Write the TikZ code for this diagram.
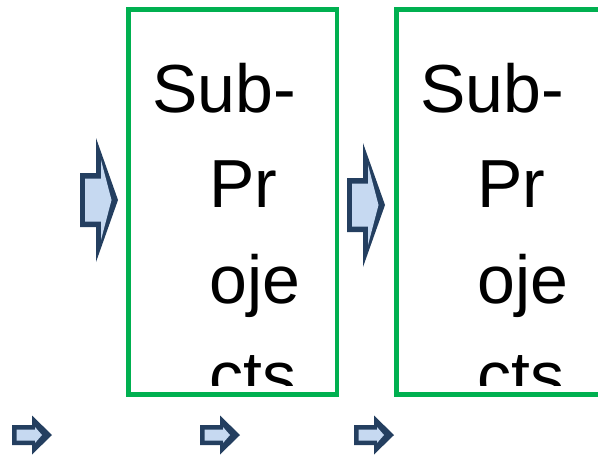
\documentclass[tikz,border=0pt]{standalone}
\usepackage{fontspec}
\setmainfont{Liberation Sans}
\definecolor{boxgreen}{HTML}{00B050}
\definecolor{arrowline}{HTML}{243F60}
\definecolor{arrowfill}{HTML}{C6D9F1}
\tikzset{
    subbox/.style={draw=boxgreen, line width=3.4pt},
    word/.style={anchor=base west, inner sep=0pt, font=\fontsize{51}{61}\selectfont},
    bigarrow/.pic={
        \fill[arrowline] (-19,-27) -- (-3,-27) -- (-3,-62) -- (19,0) -- (-3,62) -- (-3,27) -- (-19,27) -- cycle;
        \fill[arrowfill] (-14,-21.5) -- (2,-21.5) -- (2,-40) -- (12.5,0) -- (2,40) -- (2,21.5) -- (-14,21.5) -- cycle;
    },
    smallarrow/.pic={
        \fill[arrowline] (-20,-10) -- (0,-10) -- (0,-19.5) -- (20,0) -- (0,19.5) -- (0,10) -- (-20,10) -- cycle;
        \fill[arrowfill] (-15.5,-5.5) -- (3,-5.5) -- (3,-8) -- (10,0) -- (3,8) -- (3,5.5) -- (-15.5,5.5) -- cycle;
    }
}
\begin{document}
\begin{tikzpicture}[x=0.75pt, y=-0.75pt]
    \clip (0,0) rectangle (598,457);
    \draw[subbox] (128.5,9.5) rectangle (337,394.5);
    \draw[subbox] (396.5,9.5) rectangle (605,394.5);
    \begin{scope}
        \clip (0,0) rectangle (598,385);
        \node[word] (subA) at (152,112) {Sub-};
        \node[word] (prA) at (209,207) {Pr};
        \node[word] (ojeA) at (209,303) {oje};
        \node[word] (ctsA) at (209,399) {cts};
        \node[word] (subB) at (420,112) {Sub-};
        \node[word] (prB) at (477,207) {Pr};
        \node[word] (ojeB) at (477,303) {oje};
        \node[word] (ctsB) at (477,399) {cts};
    \end{scope}
    \pic (bigA) at (99,200) {bigarrow};
    \pic (bigB) at (366,205) {bigarrow};
    \pic (smallA) at (32,435) {smallarrow};
    \pic (smallB) at (220,435) {smallarrow};
    \pic (smallC) at (374,435) {smallarrow};
\end{tikzpicture}
\end{document}
